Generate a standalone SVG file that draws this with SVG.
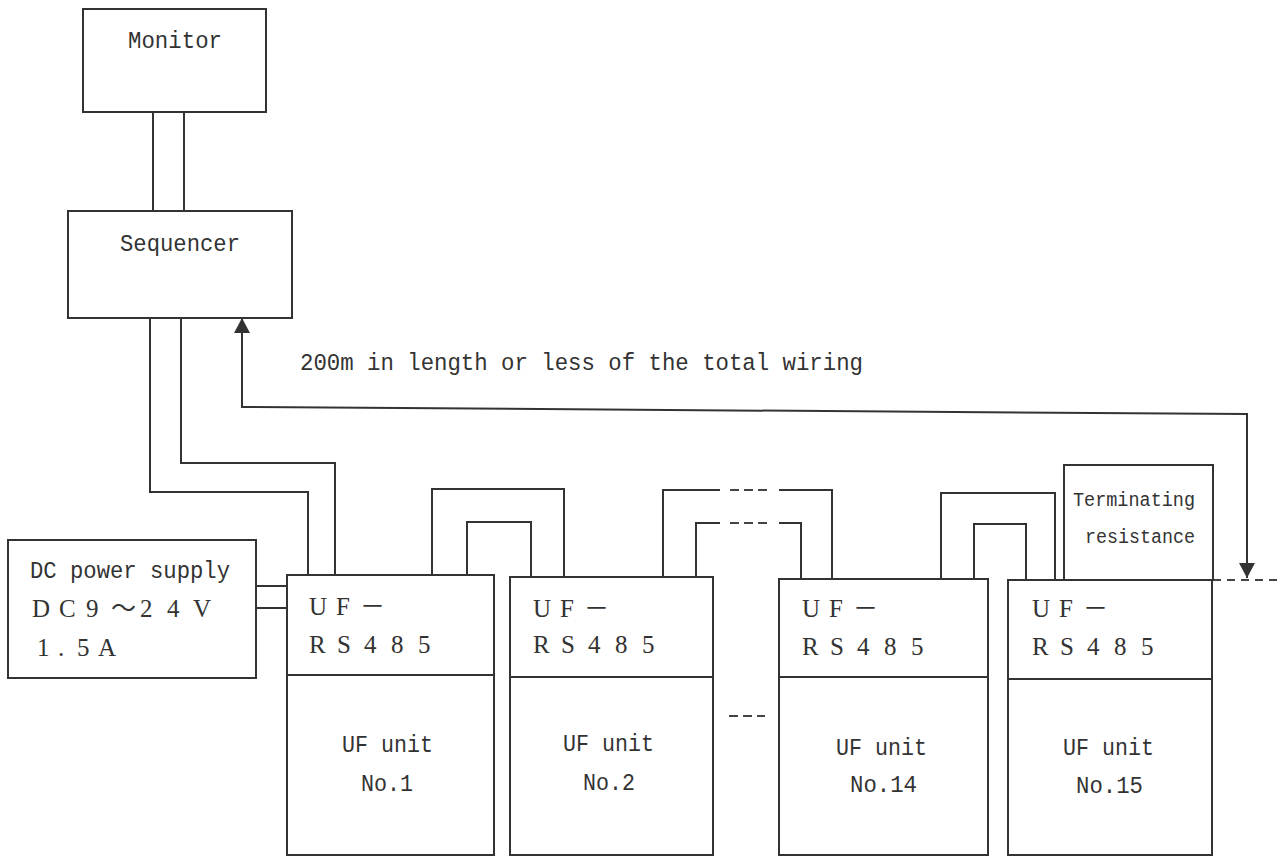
<svg xmlns="http://www.w3.org/2000/svg" width="1282" height="857" viewBox="0 0 1282 857">
<style>
  .box{fill:none;stroke:#333;stroke-width:2}
  .w{fill:none;stroke:#333;stroke-width:2}
  .dash{fill:none;stroke:#444;stroke-width:2;stroke-dasharray:9 5}
  .mono{font-family:"Liberation Mono","DejaVu Sans Mono",monospace;font-size:24.5px;fill:#333}
  .small{font-family:"Liberation Mono","DejaVu Sans Mono",monospace;font-size:20px;fill:#333}
  .wide{font-family:"Liberation Serif","Noto Sans CJK JP",serif;font-size:25px;fill:#333}
</style>
<defs>
  <marker id="arr" markerUnits="userSpaceOnUse" markerWidth="16" markerHeight="16" viewBox="0 0 14 15" refX="14" refY="7.5" orient="auto-start-reverse">
    <path d="M0,0 L14,7.5 L0,15 z" fill="#333"/>
  </marker>
</defs>
<rect width="1282" height="857" fill="#fff"/>

<g id="connectors">
  <path class="w" d="M153 112 V211 M184 112 V211"/>
  <path class="w" d="M150 318 V492 H308 V575"/>
  <path class="w" d="M181 318 V463 H335 V575"/>
  <path class="w" d="M256 586 H287 M256 608 H287"/>
  <path class="w" d="M432 575 V489 H564 V577"/>
  <path class="w" d="M467 575 V522 H531 V577"/>
  <path class="w" d="M663 577 V490 H720 M779 490 H832 V579"/>
  <path class="w" d="M696 577 V523 H720 M779 523 H801 V579"/>
  <path class="dash" d="M730 490 H767 M730 523 H767"/>
  <path class="dash" d="M729 716 H765"/>
  <path class="w" d="M941 579 V493 H1055 V580"/>
  <path class="w" d="M974 579 V524 H1026 V580"/>
  <path class="w" d="M242 318 V407 L1247 414 V578" stroke-width="1.6" marker-start="url(#arr)" marker-end="url(#arr)"/>
  <path fill="none" stroke="#444" stroke-width="2" stroke-dasharray="8 6" d="M1213 580 H1282"/>
</g>

<g id="monitor">
  <rect class="box" x="83" y="9" width="183" height="103"/>
  <text class="mono" x="128" y="48" textLength="94" lengthAdjust="spacingAndGlyphs">Monitor</text>
</g>

<g id="sequencer">
  <rect class="box" x="68" y="211" width="224" height="107"/>
  <text class="mono" x="120" y="251" textLength="120" lengthAdjust="spacingAndGlyphs">Sequencer</text>
</g>

<g id="wiring-label">
  <text class="mono" x="300" y="370" textLength="563" lengthAdjust="spacingAndGlyphs">200m in length or less of the total wiring</text>
</g>

<g id="dc-power">
  <rect class="box" x="8" y="540" width="248" height="138"/>
  <text class="mono" x="30" y="578" textLength="200" lengthAdjust="spacingAndGlyphs">DC power supply</text>
  <text class="wide" x="32 59 86 111 140 167 193" y="617">DC9～24V</text>
  <text class="wide" x="37 58 77 98" y="656">1.5A</text>
</g>

<g id="uf1">
  <rect class="box" x="287" y="575" width="207" height="280"/>
  <line class="box" x1="287" y1="675" x2="494" y2="675"/>
  <text class="wide" x="309 336 360" y="615">UF－</text>
  <text class="wide" x="309 337 364 391 418" y="653">RS485</text>
  <text class="mono" x="342" y="752" textLength="91" lengthAdjust="spacingAndGlyphs">UF unit</text>
  <text class="mono" x="361" y="791" textLength="52" lengthAdjust="spacingAndGlyphs">No.1</text>
</g>

<g id="uf2">
  <rect class="box" x="510" y="577" width="203" height="278"/>
  <line class="box" x1="510" y1="677" x2="713" y2="677"/>
  <text class="wide" x="533 560 584" y="617">UF－</text>
  <text class="wide" x="533 561 588 615 642" y="653">RS485</text>
  <text class="mono" x="563" y="751" textLength="91" lengthAdjust="spacingAndGlyphs">UF unit</text>
  <text class="mono" x="583" y="790" textLength="52" lengthAdjust="spacingAndGlyphs">No.2</text>
</g>

<g id="uf14">
  <rect class="box" x="779" y="579" width="209" height="276"/>
  <line class="box" x1="779" y1="677" x2="988" y2="677"/>
  <text class="wide" x="802 829 853" y="617">UF－</text>
  <text class="wide" x="802 830 857 884 911" y="655">RS485</text>
  <text class="mono" x="836" y="755" textLength="91" lengthAdjust="spacingAndGlyphs">UF unit</text>
  <text class="mono" x="850" y="792" textLength="67" lengthAdjust="spacingAndGlyphs">No.14</text>
</g>

<g id="uf15">
  <rect class="box" x="1008" y="580" width="204" height="275"/>
  <line class="box" x1="1008" y1="679" x2="1212" y2="679"/>
  <text class="wide" x="1032 1059 1083" y="617">UF－</text>
  <text class="wide" x="1032 1060 1087 1114 1141" y="655">RS485</text>
  <text class="mono" x="1063" y="755" textLength="91" lengthAdjust="spacingAndGlyphs">UF unit</text>
  <text class="mono" x="1076" y="793" textLength="67" lengthAdjust="spacingAndGlyphs">No.15</text>
</g>

<g id="terminating-resistance">
  <rect class="box" x="1064" y="465" width="149" height="115"/>
  <text class="small" x="1073" y="506" textLength="122" lengthAdjust="spacingAndGlyphs">Terminating</text>
  <text class="small" x="1085" y="543" textLength="110" lengthAdjust="spacingAndGlyphs">resistance</text>
</g>
</svg>
